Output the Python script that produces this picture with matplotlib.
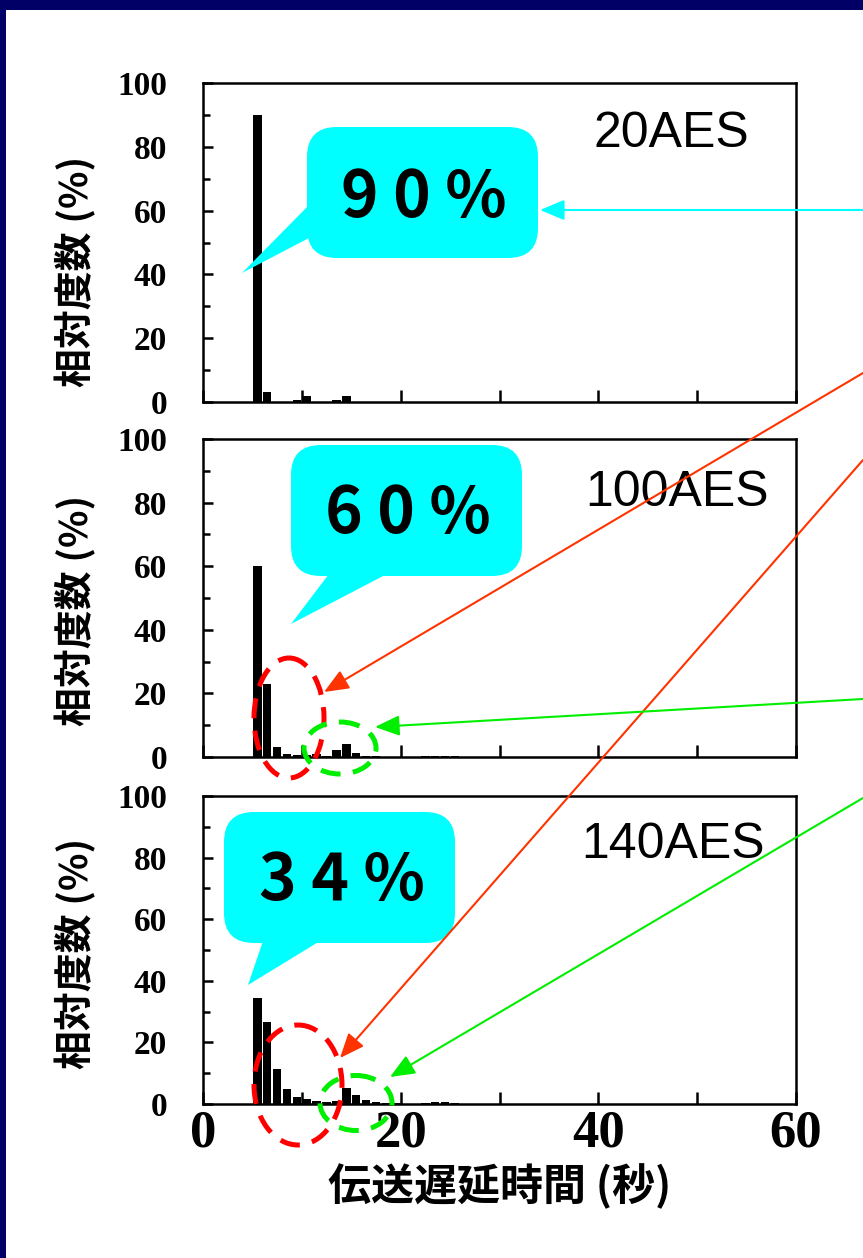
import matplotlib.pyplot as plt
import numpy as np
from matplotlib.patches import FancyBboxPatch, Polygon, Ellipse, Rectangle
from matplotlib.ticker import MultipleLocator

# 遅延時間のビン (秒) と相対度数 (%)
delay_bins = [5.5, 6.5, 7.5, 8.5, 9.5, 10.5, 11.5, 12.5, 13.5, 14.5, 15.5,
              16.5, 17.5, 18.5, 19.5, 20.5, 21.5, 22.5, 23.5, 24.5, 25.5]
freq_20aes = [90.0, 3.2, 0.0, 0.0, 0.6, 1.9, 0.0, 0.0, 0.6, 1.9, 0.0,
              0.0, 0.0, 0.0, 0.0, 0.0, 0.0, 0.0, 0.0, 0.0, 0.0]
freq_100aes = [60.0, 22.8, 3.0, 0.8, 0.5, 0.5, 0.8, 0.3, 2.3, 4.2, 1.3,
               0.3, 0.2, 0.0, 0.0, 0.0, 0.0, 0.2, 0.3, 0.4, 0.2]
freq_140aes = [34.4, 26.6, 11.3, 4.9, 2.2, 1.6, 1.0, 0.7, 1.0, 5.1, 2.9,
               1.3, 0.7, 0.3, 0.2, 0.0, 0.1, 0.3, 0.5, 0.7, 0.4]
panel_names = ['20AES', '100AES', '140AES']
peak_labels = ['9 0 %', '6 0 %', '3 4 %']

W, H = 863, 1258
fig = plt.figure(figsize=(W / 100, H / 100), dpi=100)
fig.patch.set_facecolor('white')

cjk = ['Noto Sans CJK JP', 'DejaVu Sans']


def frac_box(left, top, right, bottom):
    return [left / W, 1 - bottom / H, (right - left) / W, (bottom - top) / H]


# パネル位置 (ピクセル)
boxes = [(203, 83, 796, 402), (203, 439, 796, 757), (203, 796, 796, 1104)]
label_y = [0.41, 0.46, 0.49]
title_pos = [(0.79, 0.84), (0.80, 0.83), (0.793, 0.84)]
all_freqs = [freq_20aes, freq_100aes, freq_140aes]

for i, (box, freqs) in enumerate(zip(boxes, all_freqs)):
    ax = fig.add_axes(frac_box(*box))
    ax.bar(delay_bins, freqs, width=0.85, color='black', linewidth=0)
    ax.set_xlim(0, 60)
    ax.set_ylim(0, 100)
    ax.xaxis.set_major_locator(MultipleLocator(20))
    ax.xaxis.set_minor_locator(MultipleLocator(10))
    ax.yaxis.set_major_locator(MultipleLocator(20))
    ax.yaxis.set_minor_locator(MultipleLocator(10))
    ax.tick_params(which='both', direction='in', width=1.8, top=False, right=False)
    ax.tick_params(axis='y', which='major', length=7, pad=26)
    ax.tick_params(axis='y', which='minor', length=5)
    ax.tick_params(axis='x', which='both', length=9)
    for s in ax.spines.values():
        s.set_linewidth(1.8)
    for lab in ax.get_yticklabels():
        lab.set_fontfamily('Liberation Serif')
        lab.set_fontweight('bold')
        lab.set_fontsize(24)
    if i < 2:
        ax.set_xticklabels([])
    else:
        for lab in ax.get_xticklabels():
            lab.set_fontfamily('Liberation Serif')
            lab.set_fontweight('bold')
            lab.set_fontsize(38)
        ax.tick_params(axis='x', pad=4)
        ax.set_xlabel('伝送遅延時間 (秒)', family=cjk, weight='bold', fontsize=31, labelpad=4)
    ax.set_ylabel('相対度数 (%)', family=cjk, weight='bold', fontsize=28)
    ax.yaxis.set_label_coords(-0.18, label_y[i])
    ax.text(title_pos[i][0], title_pos[i][1], panel_names[i], transform=ax.transAxes,
            ha='center', va='center', family='Liberation Sans', fontsize=36)

# 注釈用のオーバーレイ (ピクセル座標)
ov = fig.add_axes([0, 0, 1, 1], zorder=10)
ov.set_xlim(0, W)
ov.set_ylim(H, 0)
ov.axis('off')
ov.patch.set_alpha(0)

# 枠
ov.add_patch(Rectangle((0, 0), W, 10, color='#000066', lw=0))
ov.add_patch(Rectangle((0, 0), 6, H, color='#000066', lw=0))

cyan = '#00FFFF'
bubble_boxes = [(307, 127, 538, 258), (291, 445, 522, 576), (224, 812, 455, 943)]
bubble_tails = [[(309, 205), (309, 238), (242, 273)],
                [(329, 574), (387, 574), (291, 624)],
                [(263, 941), (320, 941), (248, 985)]]
bubble_text_xy = [(424, 198), (408, 514), (342, 881)]
for (l, t, r, b), tail, (tx, ty), lbl in zip(bubble_boxes, bubble_tails,
                                              bubble_text_xy, peak_labels):
    ov.add_patch(FancyBboxPatch((l + 30, t + 30), r - l - 60, b - t - 60,
                                boxstyle='round,pad=30,rounding_size=30',
                                fc=cyan, ec='none'))
    ov.add_patch(Polygon(tail, closed=True, fc=cyan, ec='none'))
    ov.text(tx, ty, lbl, ha='center', va='center', family=cjk, weight='bold',
            fontsize=46, color='black')

# 点線の楕円
red = '#FF0000'
green = '#00EE00'
ellipses = [((289, 718), 70, 120, red), ((340, 748), 72, 52, green),
            ((298, 1085), 88, 120, red), ((356, 1103), 72, 55, green)]
for (cx, cy), w, h, c in ellipses:
    ov.add_patch(Ellipse((cx, cy), w, h, fill=False, ec=c, lw=3.6,
                         linestyle=(0, (4, 2.5))))

# 矢印
arrows = [((W, 210), (540, 210), cyan),
          ((W, 373), (324, 692), '#FF3300'),
          ((W, 460), (340, 1058), '#FF3300'),
          ((W, 699), (375, 727), '#00EE00'),
          ((W, 798), (390, 1077), '#00EE00')]
for start, end, c in arrows:
    ov.annotate('', xy=end, xytext=start,
                arrowprops=dict(arrowstyle='-|>,head_length=0.6,head_width=0.25',
                                mutation_scale=25, color=c, lw=1.5,
                                shrinkA=0, shrinkB=0))

fig.savefig('out.png', dpi=100)
